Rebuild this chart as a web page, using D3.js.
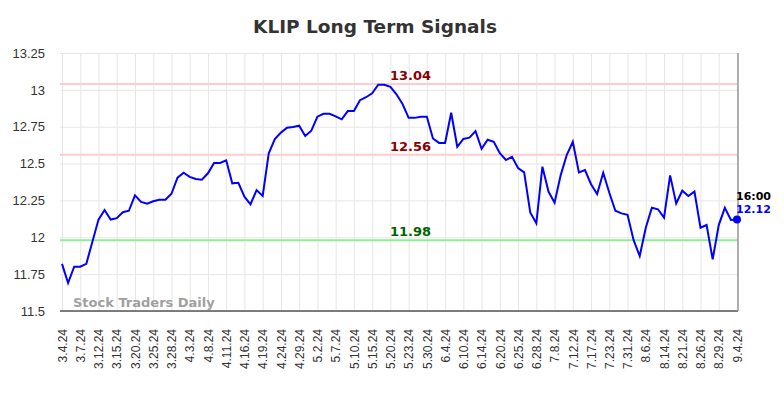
<!DOCTYPE html>
<html>
<head>
<meta charset="utf-8">
<script src="https://cdn.jsdelivr.net/npm/d3@7"></script>
<style>
  body { margin: 0; background: #fff; }
  svg { font-family: "DejaVu Sans", sans-serif; }
</style>
</head>
<body>
<script>
'use strict';

// closing prices, one per plotted session
const prices = [
  11.82, 11.69, 11.80, 11.80, 11.82, 11.97, 12.12, 12.185, 12.12, 12.13,
  12.17, 12.18, 12.285, 12.24, 12.228, 12.244, 12.255, 12.255, 12.295, 12.404,
  12.438, 12.41, 12.395, 12.39, 12.434, 12.504, 12.504, 12.522, 12.366, 12.37,
  12.275, 12.224, 12.32, 12.28, 12.57, 12.666, 12.71, 12.743, 12.748, 12.757,
  12.687, 12.723, 12.818, 12.838, 12.838, 12.82, 12.80, 12.856, 12.856, 12.93,
  12.95, 12.977, 13.035, 13.035, 13.02, 12.97, 12.904, 12.81, 12.81, 12.818,
  12.818, 12.67, 12.64, 12.64, 12.845, 12.614, 12.667, 12.676, 12.72, 12.60,
  12.662, 12.648, 12.57, 12.524, 12.546, 12.47, 12.44, 12.169, 12.095, 12.479,
  12.31, 12.234, 12.42, 12.558, 12.648, 12.44, 12.456, 12.36, 12.293, 12.438,
  12.302, 12.18, 12.162, 12.153, 11.98, 11.873, 12.065, 12.20, 12.19, 12.133,
  12.42, 12.23, 12.316, 12.28, 12.31, 12.065, 12.083, 11.85, 12.083, 12.20,
  12.117, 12.12
];

// date labels, one every third session
const dateLabels = [
  '3.4.24', '3.7.24', '3.12.24', '3.15.24', '3.20.24', '3.25.24', '3.28.24',
  '4.3.24', '4.8.24', '4.11.24', '4.16.24', '4.19.24', '4.24.24', '4.29.24',
  '5.2.24', '5.7.24', '5.10.24', '5.15.24', '5.20.24', '5.23.24', '5.30.24',
  '6.4.24', '6.10.24', '6.14.24', '6.20.24', '6.25.24', '6.28.24', '7.8.24',
  '7.12.24', '7.17.24', '7.23.24', '7.31.24', '8.6.24', '8.14.24', '8.21.24',
  '8.26.24', '8.29.24', '9.4.24'
];

const yTicks = [11.5, 11.75, 12, 12.25, 12.5, 12.75, 13, 13.25];

// signal levels
const levels = [
  { value: 13.04, line: '#ffcccc', text: '#8b0000' },
  { value: 12.56, line: '#ffcccc', text: '#8b0000' },
  { value: 11.98, line: '#90ee90', text: '#006400' }
];

const lastTime = '16:00';

const msm = {
  width: 784,
  height: 398,
  left: 60,
  right: 738,
  top: 53,
  bottom: 311
};

const svg = d3.select('body').append('svg')
  .attr('width', msm.width)
  .attr('height', msm.height);

const xScale = d3.scaleLinear()
  .domain([0, prices.length - 1])
  .range([62, 737]);

const yScale = d3.scaleLinear()
  .domain([11.5, 13.25])
  .range([msm.bottom, msm.top]);

const tickIdx = dateLabels.map((d, i) => i * 3);

// vertical grid
svg.append('g')
  .attr('transform', 'translate(0,' + msm.bottom + ')')
  .call(d3.axisBottom(xScale).tickValues(tickIdx).tickSize(-(msm.bottom - msm.top)).tickFormat(''))
  .call(g => g.select('.domain').remove())
  .call(g => g.selectAll('line').attr('stroke', '#e6e6e6'));

// horizontal grid
svg.append('g')
  .attr('transform', 'translate(' + msm.left + ',0)')
  .call(d3.axisLeft(yScale).tickValues(yTicks).tickSize(-(msm.right - msm.left)).tickFormat(''))
  .call(g => g.select('.domain').remove())
  .call(g => g.selectAll('line').attr('stroke', '#e6e6e6'));

// y labels
svg.append('g')
  .attr('transform', 'translate(' + msm.left + ',0)')
  .call(d3.axisLeft(yScale).tickValues(yTicks).tickSize(0).tickPadding(15).tickFormat(d => d3.format('')(d)))
  .call(g => g.select('.domain').remove())
  .call(g => g.selectAll('text').attr('fill', '#333').style('font-size', '13px'));

// x labels
svg.append('g')
  .attr('transform', 'translate(0,' + msm.bottom + ')')
  .call(d3.axisBottom(xScale).tickValues(tickIdx).tickSize(0).tickFormat((d, i) => dateLabels[i]))
  .call(g => g.select('.domain').remove())
  .call(g => g.selectAll('text')
    .attr('fill', '#333')
    .style('font-size', '12px')
    .attr('text-anchor', 'end')
    .attr('transform', 'rotate(-90)')
    .attr('x', -18)
    .attr('y', 0)
    .attr('dy', '0.35em'));

// level lines
levels.forEach(l => {
  svg.append('line')
    .attr('x1', msm.left).attr('x2', msm.right)
    .attr('y1', yScale(l.value)).attr('y2', yScale(l.value))
    .attr('stroke', l.line).attr('stroke-width', 2);
  svg.append('text')
    .attr('x', 390)
    .attr('y', yScale(l.value) - 4)
    .attr('fill', l.text)
    .style('font-size', '13px')
    .style('font-weight', 'bold')
    .text(l.value.toFixed(2));
});

// axis frame
svg.append('line')
  .attr('x1', msm.left).attr('x2', msm.right)
  .attr('y1', msm.bottom).attr('y2', msm.bottom)
  .attr('stroke', '#555').attr('stroke-width', 1.5);
svg.append('line')
  .attr('x1', msm.right).attr('x2', msm.right)
  .attr('y1', msm.top).attr('y2', msm.bottom)
  .attr('stroke', '#999').attr('stroke-width', 1.5);

// watermark
svg.append('text')
  .attr('x', 73).attr('y', 307)
  .attr('fill', '#a0a0a0')
  .style('font-size', '13px')
  .style('font-weight', 'bold')
  .text('Stock Traders Daily');

// price line
svg.append('path')
  .datum(prices)
  .attr('fill', 'none')
  .attr('stroke', '#0000ff')
  .attr('stroke-width', 2)
  .attr('d', d3.line().x((d, i) => xScale(i)).y(d => yScale(d)));

// last point
const lastI = prices.length - 1;
svg.append('circle')
  .attr('cx', xScale(lastI)).attr('cy', yScale(prices[lastI]))
  .attr('r', 4).attr('fill', '#0000ff');
svg.append('text')
  .attr('x', xScale(lastI) - 1).attr('y', yScale(prices[lastI]) - 20)
  .style('font-size', '11px').style('font-weight', 'bold').attr('fill', '#000')
  .text(lastTime);
svg.append('text')
  .attr('x', xScale(lastI) - 1).attr('y', yScale(prices[lastI]) - 7)
  .style('font-size', '11px').style('font-weight', 'bold').attr('fill', '#0000ff')
  .text(prices[lastI].toFixed(2));

// title
svg.append('text')
  .attr('x', 375).attr('y', 33)
  .attr('text-anchor', 'middle')
  .attr('fill', '#333')
  .style('font-size', '18.5px')
  .style('font-weight', 'bold')
  .text('KLIP Long Term Signals');
</script>
</body>
</html>
